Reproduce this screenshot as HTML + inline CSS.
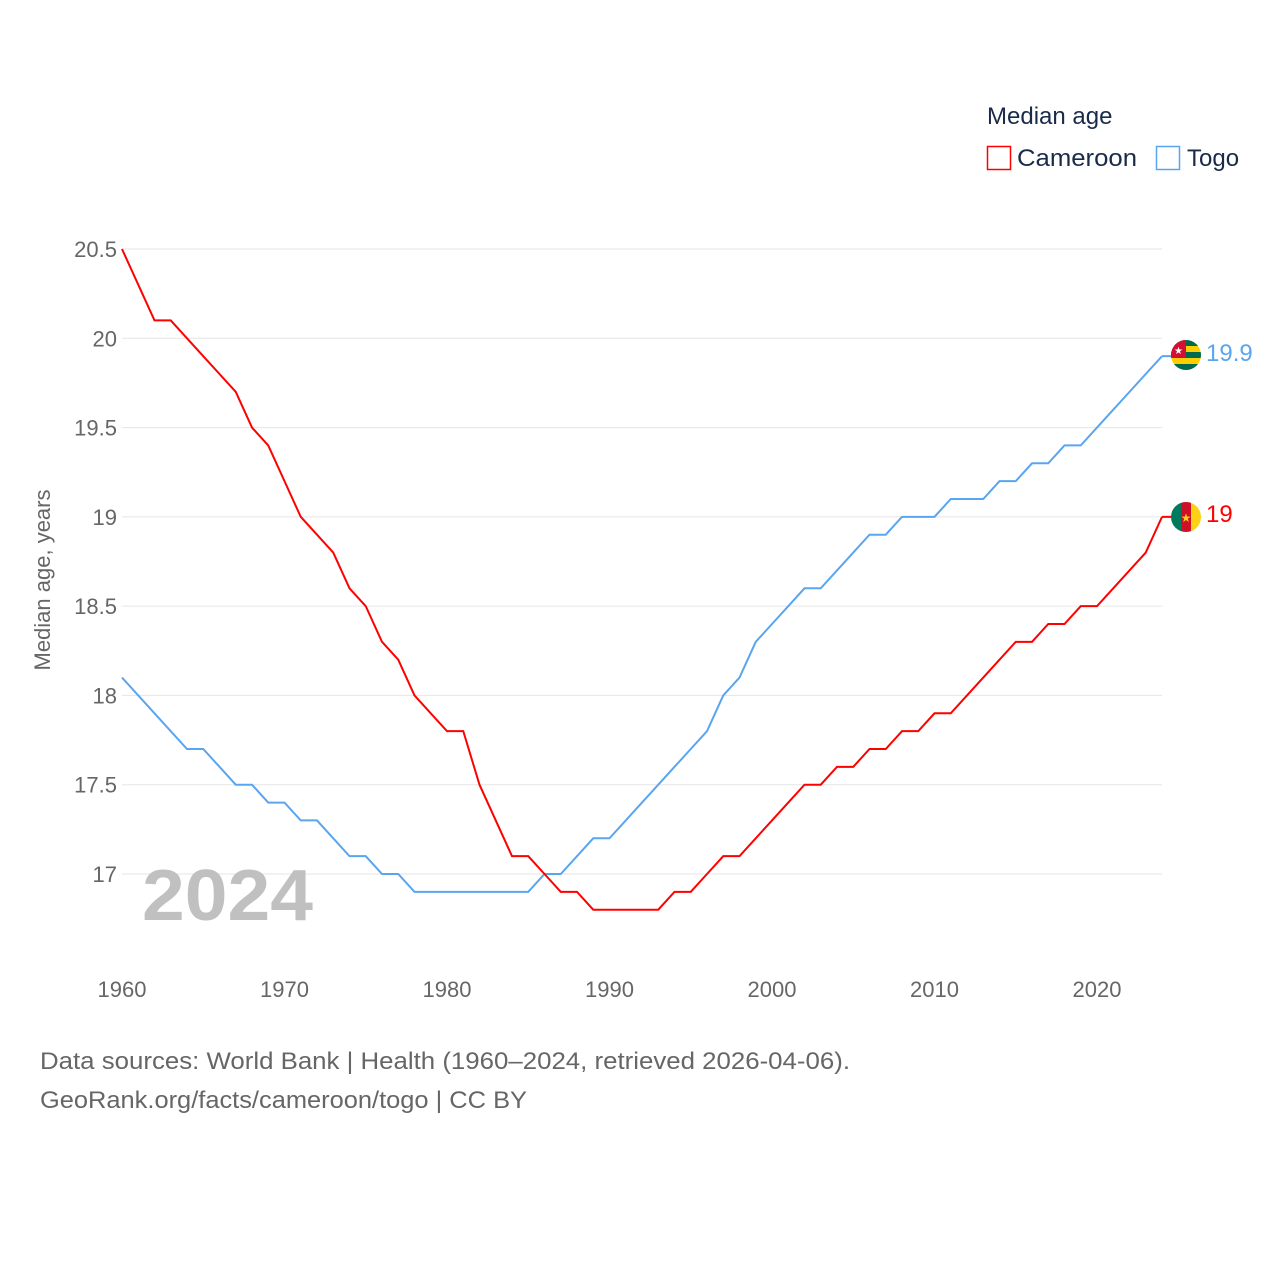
<!DOCTYPE html>
<html><head><meta charset="utf-8"><style>
body{margin:0;background:#fff;font-family:"Liberation Sans",sans-serif}
</style></head><body>
<svg id="chart" width="1280" height="1280" xmlns="http://www.w3.org/2000/svg" style="font-family:'Liberation Sans',sans-serif">
<text x="987" y="124" font-size="24" fill="#1a2b4a">Median age</text>
<g><rect x="987.5" y="146.5" width="23" height="23" fill="none" stroke="#f00" stroke-width="1.5"/><text x="1017" y="166" font-size="24" fill="#1a2b4a" textLength="120" lengthAdjust="spacingAndGlyphs">Cameroon</text></g>
<g><rect x="1156.5" y="146.5" width="23" height="23" fill="none" stroke="#5aa5f0" stroke-width="1.5"/><text x="1187" y="166" font-size="24" fill="#1a2b4a">Togo</text></g>
<g id="grid"></g>
<g id="yt"></g>
<g id="xt"></g>
<text transform="translate(50,580) rotate(-90)" text-anchor="middle" font-size="22" fill="#666">Median age, years</text>
<text x="142" y="920" font-size="72" font-weight="bold" fill="#c0c0c0" textLength="171" lengthAdjust="spacingAndGlyphs">2024</text>
<g id="lines"></g>
<g>
<clipPath id="ct"><circle cx="1186" cy="355" r="15"/></clipPath>
<g clip-path="url(#ct)"><rect x="1171" y="340" width="30" height="30" fill="#ffce00"/><rect x="1171" y="340" width="30" height="6" fill="#006a4e"/><rect x="1171" y="352" width="30" height="6" fill="#006a4e"/><rect x="1171" y="364" width="30" height="6" fill="#006a4e"/><rect x="1171" y="340" width="15" height="18" fill="#d21034"/><text x="1178.5" y="354" font-size="10" fill="#fff" text-anchor="middle">★</text></g></g>
<g>
<clipPath id="cc"><circle cx="1186" cy="517" r="15"/></clipPath>
<g clip-path="url(#cc)"><rect x="1171" y="502" width="10" height="30" fill="#007a5e"/><rect x="1181" y="502" width="10" height="30" fill="#ce1126"/><rect x="1191" y="502" width="10" height="30" fill="#fcd116"/><text x="1186" y="522" font-size="12" fill="#fcd116" text-anchor="middle">★</text></g></g>
<text x="1206" y="361" font-size="24" fill="#5aa5f0">19.9</text>
<text x="1206" y="522" font-size="24" fill="#f00">19</text>
<text x="40" y="1069" font-size="24" fill="#666" textLength="810" lengthAdjust="spacingAndGlyphs">Data sources: World Bank | Health (1960–2024, retrieved 2026-04-06).</text>
<text x="40" y="1108" font-size="24" fill="#666" textLength="487" lengthAdjust="spacingAndGlyphs">GeoRank.org/facts/cameroon/togo | CC BY</text>
</svg>
<script>
const years=[];for(let y=1960;y<=2024;y++)years.push(y);
const cameroon=[20.5,20.3,20.1,20.1,20.0,19.9,19.8,19.7,19.5,19.4,19.2,19.0,18.9,18.8,18.6,18.5,18.3,18.2,18.0,17.9,17.8,17.8,17.5,17.3,17.1,17.1,17.0,16.9,16.9,16.8,16.8,16.8,16.8,16.8,16.9,16.9,17.0,17.1,17.1,17.2,17.3,17.4,17.5,17.5,17.6,17.6,17.7,17.7,17.8,17.8,17.9,17.9,18.0,18.1,18.2,18.3,18.3,18.4,18.4,18.5,18.5,18.6,18.7,18.8,19.0];
const togo=[18.1,18.0,17.9,17.8,17.7,17.7,17.6,17.5,17.5,17.4,17.4,17.3,17.3,17.2,17.1,17.1,17.0,17.0,16.9,16.9,16.9,16.9,16.9,16.9,16.9,16.9,17.0,17.0,17.1,17.2,17.2,17.3,17.4,17.5,17.6,17.7,17.8,18.0,18.1,18.3,18.4,18.5,18.6,18.6,18.7,18.8,18.9,18.9,19.0,19.0,19.0,19.1,19.1,19.1,19.2,19.2,19.3,19.3,19.4,19.4,19.5,19.6,19.7,19.8,19.9];
const yTicks=[17,17.5,18,18.5,19,19.5,20,20.5];
const xTicks=[1960,1970,1980,1990,2000,2010,2020];
const NS='http://www.w3.org/2000/svg';
const xs=v=>122+(v-1960)*16.25;
const ys=v=>874-(v-17)*178.57;
function mk(t,a,p){const e=document.createElementNS(NS,t);for(const k in a)e.setAttribute(k,a[k]);p.appendChild(e);return e;}
const grid=document.getElementById('grid'),yt=document.getElementById('yt'),xt=document.getElementById('xt'),lines=document.getElementById('lines');
yTicks.forEach(v=>{
 const l=mk('line',{x1:122,x2:1162,y1:ys(v),y2:ys(v),stroke:'#e6e6e6','stroke-width':1},grid);
 
 
 const t=mk('text',{x:117,y:ys(v)+8,'text-anchor':'end','font-size':22,fill:'#666'},yt);
 t.textContent=String(v);
 
 
});
xTicks.forEach(v=>{
 const t=mk('text',{x:xs(v),y:997,'text-anchor':'middle','font-size':22,fill:'#666'},xt);
 t.textContent=String(v);
 
 
});
function line(d,c,name){
 const p=mk('polyline',{points:d.map((v,i)=>xs(years[i])+','+ys(v)).join(' '),fill:'none',stroke:c,'stroke-width':2},lines);
 
 
}
line(togo,'#5aa5f0','togo-line');
line(cameroon,'#f00','cameroon-line');
mk('line',{x1:1162,x2:1172,y1:ys(togo[64]),y2:ys(togo[64]),stroke:'#5aa5f0','stroke-width':2},lines);
mk('line',{x1:1162,x2:1172,y1:ys(cameroon[64]),y2:ys(cameroon[64]),stroke:'#f00','stroke-width':2},lines);
</script>
</body></html>
